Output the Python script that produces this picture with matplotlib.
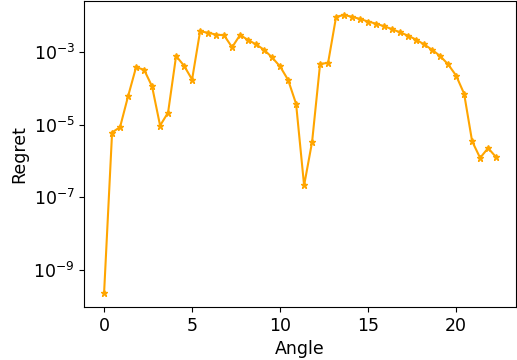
"""Regret vs angle on a log scale."""

import matplotlib

matplotlib.use("Agg")
import matplotlib.pyplot as plt
import numpy as np

# evenly spaced angles, 50 samples
angles = [
    0.000, 0.455, 0.909, 1.364, 1.818, 2.273, 2.727, 3.182, 3.636, 4.091,
    4.545, 5.000, 5.455, 5.909, 6.364, 6.818, 7.273, 7.727, 8.182, 8.636,
    9.091, 9.545, 10.000, 10.455, 10.909, 11.364, 11.818, 12.273, 12.727, 13.182,
    13.636, 14.091, 14.545, 15.000, 15.455, 15.909, 16.364, 16.818, 17.273, 17.727,
    18.182, 18.636, 19.091, 19.545, 20.000, 20.455, 20.909, 21.364, 21.818, 22.273,
]

# log10 of the regret
log_regret = [
    -9.64, -5.21, -5.06, -4.21, -3.41, -3.48, -3.94, -5.02, -4.66, -3.10,
    -3.37, -3.75, -2.42, -2.46, -2.51, -2.53, -2.86, -2.52, -2.66, -2.78,
    -2.93, -3.14, -3.39, -3.76, -4.42, -6.67, -5.47, -3.32, -3.29, -2.02,
    -1.97, -2.02, -2.08, -2.15, -2.21, -2.28, -2.36, -2.45, -2.54, -2.65,
    -2.78, -2.93, -3.10, -3.33, -3.64, -4.14, -5.45, -5.91, -5.64, -5.89,
]

regret = np.power(10.0, log_regret)

plt.rcParams["font.size"] = 12.5

fig = plt.figure(figsize=(5.17, 3.6), dpi=100)
ax = fig.add_axes([0.1634, 0.147, 0.8341, 0.85])
ax.plot(angles, regret, "*-", color="orange", markersize=5, linewidth=1.5)
ax.set_yscale("log")
ax.set_yticks([1e-9, 1e-7, 1e-5, 1e-3])
ax.minorticks_off()
ax.set_xlabel("Angle")
ax.set_ylabel("Regret")

fig.savefig("out.png", dpi=100)
